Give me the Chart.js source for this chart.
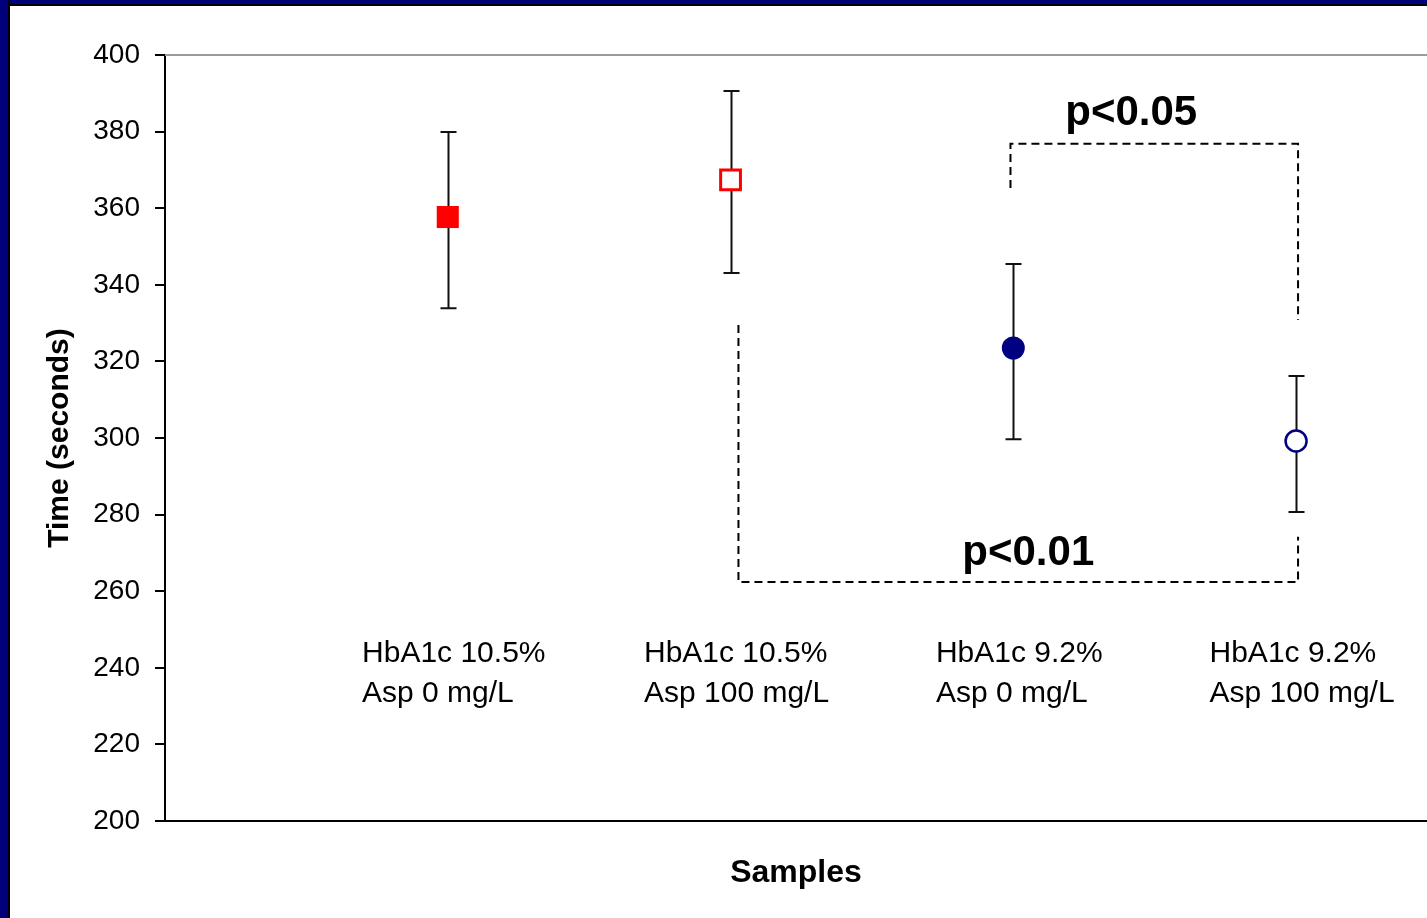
<!DOCTYPE html>
<html>
<head>
<meta charset="utf-8">
<script src="https://cdn.jsdelivr.net/npm/chart.js@4/dist/chart.umd.min.js"></script>
<style>
  html, body { margin: 0; padding: 0; background: #fff; overflow: hidden; }
  #wrap { position: relative; width: 1427px; height: 918px; overflow: hidden; }
  #chart { position: absolute; left: 0; top: 0; }
  #edgeL { position: absolute; left: 0; top: 0; width: 8px; height: 918px; background: #00007a; border-right: 2px solid #000; }
  #edgeT { position: absolute; left: 0; top: 0; width: 1427px; height: 4px; background: #00007a; border-bottom: 2px solid #000; }
</style>
</head>
<body>
<div id="wrap">
  <canvas id="chart" width="1444" height="918"></canvas>
  <div id="edgeT"></div>
  <div id="edgeL"></div>
</div>
<script>
// groups on the x axis (1..4)
var categories = [
    ['HbA1c 10.5%', 'Asp 0 mg/L'],
    ['HbA1c 10.5%', 'Asp 100 mg/L'],
    ['HbA1c 9.2%', 'Asp 0 mg/L'],
    ['HbA1c 9.2%', 'Asp 100 mg/L']
];
var xPos = [1, 2, 3, 4];
var means = [357.7, 367.4, 323.5, 299.2];
var errTop = [379.9, 390.6, 345.4, 316.2];
var errBottom = [333.9, 343.1, 299.7, 280.7];

// significance brackets
var bracket05X = [2.99, 2.99, 4.007, 4.007];
var bracket05Y = [365.3, 376.8, 376.8, 330.8];
var bracket01X = [2.028, 2.028, 4.007, 4.007];
var bracket01Y = [329.5, 262.4, 262.4, 274.2];
var noteText = ['p<0.05', 'p<0.01'];
var noteX = [3.417, 3.053];
var noteY = [381.7, 266.8];

var yTicks = [200, 220, 240, 260, 280, 300, 320, 340, 360, 380, 400];
var categoryLabelY = 241.5;

function pts(xs, ys) {
    return xs.map(function (x, i) { return {x: x, y: ys[i]}; });
}

var extras = {
    id: 'extras',
    beforeDatasetsDraw: function (chart) {
        var ctx = chart.ctx, xs = chart.scales.x, ys = chart.scales.y, area = chart.chartArea;
        ctx.save();
        // top frame line
        ctx.strokeStyle = '#9a9a9a';
        ctx.lineWidth = 2;
        ctx.beginPath();
        ctx.moveTo(area.left, area.top);
        ctx.lineTo(area.right, area.top);
        ctx.stroke();
        // error bars
        ctx.strokeStyle = '#111';
        ctx.lineWidth = 2;
        xPos.forEach(function (v, i) {
            var px = Math.round(xs.getPixelForValue(v)) + 0.5;
            var t = ys.getPixelForValue(errTop[i]);
            var b = ys.getPixelForValue(errBottom[i]);
            ctx.beginPath();
            ctx.moveTo(px, t); ctx.lineTo(px, b);
            ctx.moveTo(px - 8, t); ctx.lineTo(px + 8, t);
            ctx.moveTo(px - 8, b); ctx.lineTo(px + 8, b);
            ctx.stroke();
        });
        ctx.restore();
    },
    afterDatasetsDraw: function (chart) {
        var ctx = chart.ctx, xs = chart.scales.x, ys = chart.scales.y;
        ctx.save();
        ctx.fillStyle = '#000';
        // category labels
        ctx.font = '30px "Liberation Sans", Arial, sans-serif';
        ctx.textAlign = 'left';
        ctx.textBaseline = 'alphabetic';
        var base = ys.getPixelForValue(categoryLabelY);
        categories.forEach(function (lines, i) {
            var w = Math.max.apply(null, lines.map(function (l) { return ctx.measureText(l).width; }));
            var left = xs.getPixelForValue(xPos[i]) - w / 2 + 6;
            lines.forEach(function (l, j) { ctx.fillText(l, left, base + j * 40); });
        });
        // p-value notes
        ctx.font = 'bold 42px "Liberation Sans", Arial, sans-serif';
        ctx.textAlign = 'center';
        noteText.forEach(function (t, i) {
            ctx.fillText(t, xs.getPixelForValue(noteX[i]), ys.getPixelForValue(noteY[i]));
        });
        ctx.restore();
    }
};

var dashed = {
    showLine: true,
    borderColor: '#000',
    borderWidth: 2,
    borderDash: [8, 5],
    pointRadius: 0,
    fill: false
};

new Chart(document.getElementById('chart'), {
    type: 'scatter',
    data: {
        datasets: [
            Object.assign({data: pts(bracket05X, bracket05Y)}, dashed),
            Object.assign({data: pts(bracket01X, bracket01Y)}, dashed),
            {
                data: pts(xPos, means),
                pointStyle: ['rect', 'rect', 'circle', 'circle'],
                pointRadius: [15.6, 14, 11.5, 10.5],
                pointBackgroundColor: ['#ff0000', '#ffffff', '#000080', '#ffffff'],
                pointBorderColor: ['#ff0000', '#ff0000', '#000080', '#000080'],
                pointBorderWidth: [0, 3, 0, 2.5]
            }
        ]
    },
    options: {
        responsive: false,
        devicePixelRatio: 1,
        animation: false,
        layout: {padding: {left: 0, top: 55, right: 0, bottom: 0}},
        plugins: {legend: {display: false}, tooltip: {enabled: false}},
        scales: {
            x: {
                type: 'linear',
                min: 0,
                max: 4.463,
                ticks: {display: false},
                grid: {display: false},
                border: {display: true, color: '#000', width: 2},
                title: {
                    display: true,
                    text: 'Samples',
                    color: '#000',
                    font: {family: '"Liberation Sans", Arial, sans-serif', size: 32, weight: 'bold'},
                    padding: {top: 0, bottom: 26}
                },
                afterFit: function (s) { s.height = 97; }
            },
            y: {
                min: 200,
                max: 400,
                afterBuildTicks: function (s) { s.ticks = yTicks.map(function (v) { return {value: v}; }); },
                ticks: {
                    color: '#000',
                    padding: 15,
                    font: {family: '"Liberation Sans", Arial, sans-serif', size: 28}
                },
                grid: {display: true, drawOnChartArea: false, drawTicks: true, tickLength: 10, color: '#000', lineWidth: 2},
                border: {display: true, color: '#000', width: 2},
                title: {
                    display: true,
                    text: 'Time (seconds)',
                    color: '#000',
                    font: {family: '"Liberation Sans", Arial, sans-serif', size: 30, weight: 'bold'},
                    padding: {top: 42, bottom: 0}
                },
                afterFit: function (s) { s.width = 165; }
            }
        }
    },
    plugins: [extras]
});
</script>
</body>
</html>
